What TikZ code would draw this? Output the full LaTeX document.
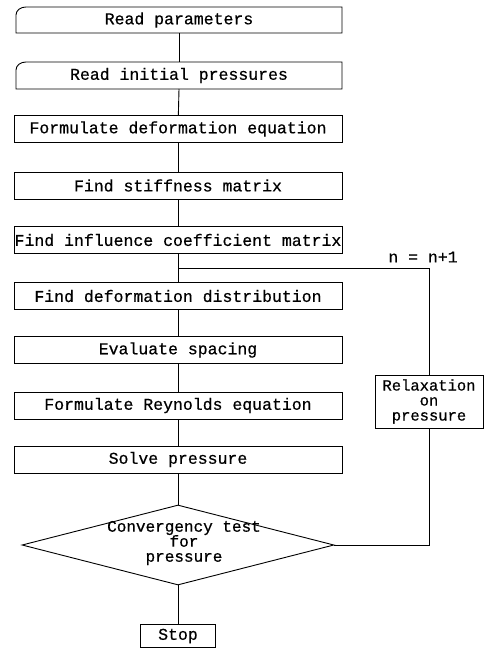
\documentclass[tikz,border=0pt]{standalone}
\usepackage{fontspec}
\setmonofont[FakeBold=0.6,AutoFakeBold=0.6]{Liberation Mono}
\usetikzlibrary{shapes.geometric}
\begin{document}
\begin{tikzpicture}[x=1pt,y=-1pt,
  every node/.style={font=\ttfamily\fontsize{16.5}{17}\selectfont},
  box/.style={draw,line width=0.9pt,minimum width=328pt,minimum height=27pt,inner sep=0pt},
  line/.style={line width=0.9pt}]
\useasboundingbox (0,0) rectangle (488,650);
% card shapes
\draw[line width=0.9pt] (26,7) -- (342,7) -- (342,33) -- (16,33) -- (16,15) to[out=90,in=180] (26,7);
\node (b1) at (179,20) {Read parameters};
\draw[line width=0.9pt] (26,62) -- (342,62) -- (342,89) -- (16,89) -- (16,70) to[out=90,in=180] (26,62);
\node (b2) at (179,75.5) {Read initial pressures};
\coordinate (b1s) at (179,33);
\coordinate (b2n) at (179,62);
\coordinate (b2s) at (179,89);
\node[box] (b3) at (178,129) {Formulate deformation equation};
\node[box] (b4) at (178,185.5) {Find stiffness matrix};
\node[box] (b5) at (178,240) {Find influence coefficient matrix};
\node[box] (b6) at (178,296) {Find deformation distribution};
\node[box] (b7) at (178,350) {Evaluate spacing};
\node[box] (b8) at (178,405.5) {Formulate Reynolds equation};
\node[box] (b9) at (178,459.5) {Solve pressure};
\node[draw,line width=0.9pt,diamond,aspect=3.9,minimum width=312pt,minimum height=80pt,inner sep=0pt] (d) at (178,545) {};
\node[align=center,font=\ttfamily\fontsize{16}{15}\selectfont] (dt) at (184,543) {Convergency test\\for\\pressure};
\node[draw,line width=0.9pt,minimum width=108pt,minimum height=53pt,inner sep=0pt,align=center,font=\ttfamily\fontsize{15.5}{15}\selectfont] (r) at (429,401.5) {Relaxation\\on\\pressure};
\node[draw,line width=0.9pt,minimum width=75pt,minimum height=23pt,inner sep=0pt] (stop) at (178,636) {Stop};
\node (n) at (423,257) {n = n+1};
\coordinate (j) at (178,268);
\draw[line] (b1s) -- (b2n);
\draw[line] (b2s) -- (b3);
\draw[line] (b3) -- (b4);
\draw[line] (b4) -- (b5);
\draw[line] (b5) -- (b6);
\draw[line] (b6) -- (b7);
\draw[line] (b7) -- (b8);
\draw[line] (b8) -- (b9);
\draw[line] (b9) -- (d.north);
\draw[line] (d.south) -- (stop);
\draw[line] (d.east) -| (r.south);
\draw[line] (r.north) -- (r.north |- j) -- (j);
\end{tikzpicture}
\end{document}
